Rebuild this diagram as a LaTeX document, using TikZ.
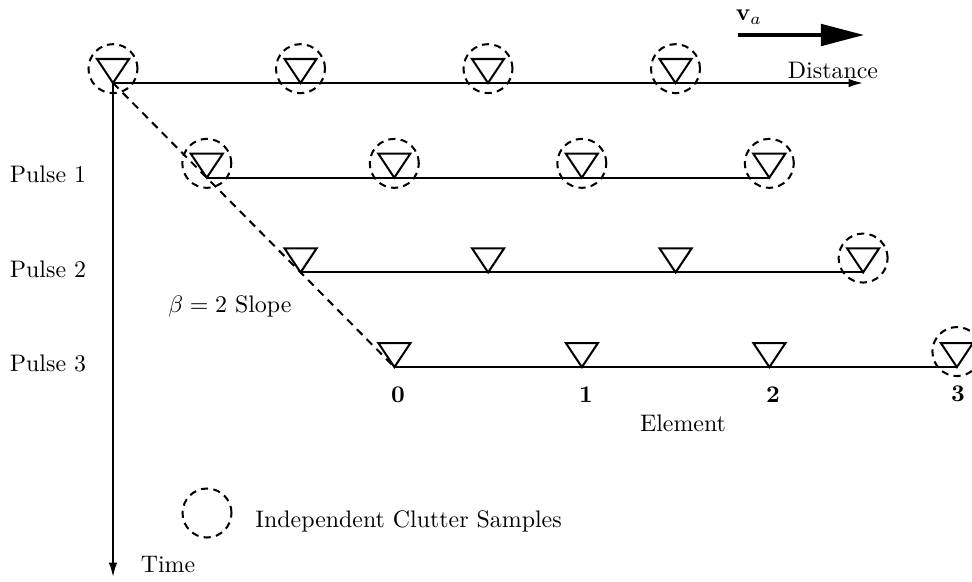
\documentclass[tikz,border=0pt]{standalone}
\usetikzlibrary{arrows.meta}
\begin{document}
\begin{tikzpicture}[x=0.4184pt,y=-0.4184pt,
  ln/.style={line width=0.85pt},
  tri/.style={line width=0.85pt,line join=miter},
  sample/.style={circle,draw,dash pattern=on 3pt off 2.2pt,line width=0.85pt,minimum size=20.5pt,inner sep=0pt},
  lbl/.style={inner sep=0pt,font=\normalsize},
  axisarrow/.style={line width=0.85pt,-{Latex[length=6pt,width=3.6pt]}}]
\useasboundingbox (0,0) rectangle (972,581);
% apex coordinates
\foreach \r in {0,1,2,3}{
  \foreach \e in {0,1,2,3}{
    \coordinate (r\r e\e) at ({113+93.8*\r+187.5*\e},{83+94.7*\r});
  }
}
% triangles
\foreach \r in {0,1,2,3}{
  \foreach \e in {0,1,2,3}{
    \draw[tri] (r\r e\e) -- ++(-16,-24) -- ++(32,0) -- cycle;
  }
}
% independent clutter sample circles
\foreach \e in {0,1,2,3}{
  \node[sample] (s0e\e) at (r0e\e) [yshift=6pt] {};
  \node[sample] (s1e\e) at (r1e\e) [yshift=6pt] {};
}
\node[sample] (s2e3) at (r2e3) [yshift=6pt] {};
\node[sample] (s3e3) at (r3e3) [yshift=6.5pt] {};
% axes and element lines
\coordinate (distend) at (863,83);
\coordinate (timeend) at (113,577);
\draw[axisarrow] (r0e0) -- (distend);
\draw[axisarrow] (r0e0) -- (timeend);
\draw[ln] (r1e0) -- (r1e3);
\draw[ln] (r2e0) -- (r2e3);
\draw[ln] (r3e0) -- (r3e3);
\draw[ln,dash pattern=on 3.3pt off 2.5pt] (r0e0) -- (r3e0);
% velocity arrow
\coordinate (va0) at (738,35);
\coordinate (va1) at (864,35);
\draw[line width=1.4pt,-{Triangle[length=18pt,width=9pt]}] (va0) -- (va1);
\node[lbl] (valbl) at (749,17) {$\mathbf{v}_a$};
% labels
\node[lbl] (dist) at (833,70) {Distance};
\node[lbl] (time) at (168,565) {Time};
\node[lbl] (p1) at (48,174) {Pulse 1};
\node[lbl] (p2) at (48,269) {Pulse 2};
\node[lbl] (p3) at (48,363) {Pulse 3};
\node[lbl] (beta) at (230,306) {$\beta=2$ Slope};
\node[lbl] (n0) at (398,395) {\textbf{0}};
\node[lbl] (n1) at (586,395) {\textbf{1}};
\node[lbl] (n2) at (773,395) {\textbf{2}};
\node[lbl] (n3) at (958,394) {\textbf{3}};
\node[lbl] (elem) at (683,423) {Element};
\node[sample] (legc) at (207,513) {};
\node[lbl,anchor=west] (legt) at (255,521) {Independent Clutter Samples};
\end{tikzpicture}
\end{document}
